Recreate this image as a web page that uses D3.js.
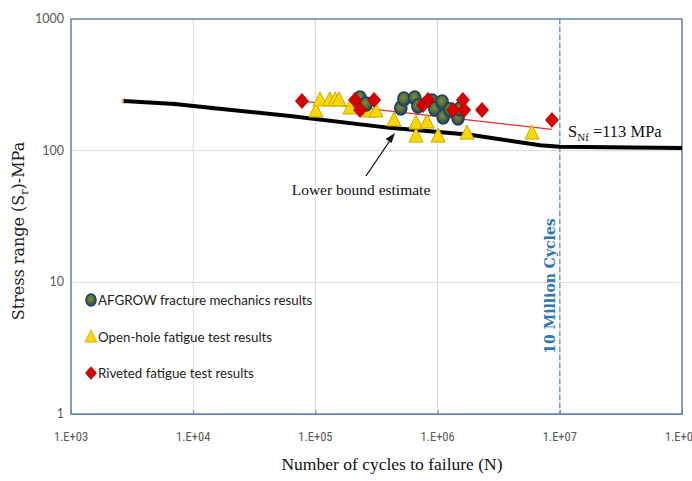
<!DOCTYPE html>
<html>
<head>
<meta charset="utf-8">
<script src="https://cdn.jsdelivr.net/npm/d3@7"></script>
<style>
  html, body { margin: 0; padding: 0; background: #fff; overflow: hidden; }
  svg { display: block; }
</style>
</head>
<body>
<div id="chart"></div>
<script>
// tick values / labels
const xTicks = [1e3, 1e4, 1e5, 1e6, 1e7, 1e8];
const xTickLabels = ["1.E+03", "1.E+04", "1.E+05", "1.E+06", "1.E+07", "1.E+08"];
const yTicks = [1, 10, 100, 1000];
const yTickLabels = ["1", "10", "100", "1000"];

// AFGROW fracture mechanics results [N, S]
const afgrowN = [2.32e5, 2.6e5, 5.0e5, 5.3e5, 6.5e5, 6.9e5, 9.0e5, 9.5e5, 1.09e6, 1.11e6, 1.26e6, 1.47e6, 1.52e6];
const afgrowS = [251, 226, 211, 247, 251, 218, 238, 207, 234, 180, 204, 177, 207];

// Open-hole fatigue test results
const openN = [1.01e5, 1.09e5, 1.31e5, 1.45e5, 1.56e5, 1.92e5, 2.75e5, 3.13e5, 4.4e5, 6.66e5, 6.66e5, 8.2e5, 1.01e6, 1.74e6, 5.92e6];
const openS = [200, 243, 243, 243, 243, 211, 200, 200, 171, 162, 129, 165, 129, 136, 136];

// Riveted fatigue test results
const rivetN = [7.76e4, 2.11e5, 2.32e5, 3.02e5, 7.6e5, 8.35e5, 1.34e6, 1.61e6, 1.65e6, 2.31e6, 8.63e6];
const rivetS = [238, 243, 204, 243, 222, 243, 204, 243, 204, 204, 171];

// lower bound estimate curve
const lowerN = [2.7e3, 7.1e3, 1.43e4, 6.2e4, 4.07e5, 1.84e6, 6.9e6, 1e7, 1e8];
const lowerS = [238, 226, 211, 183, 149, 132, 110, 107, 105];

// riveted trend line
const trendN = [7.76e4, 8.6e6];
const trendS = [238, 145];

const width = 692, height = 481;
const margin = {top: 19, right: 10, bottom: 67, left: 71};
const plotW = width - margin.left - margin.right;   // 611
const plotH = height - margin.top - margin.bottom;  // 395

const svg = d3.select("#chart").append("svg")
    .attr("width", width)
    .attr("height", height);

const defs = svg.append("defs");
const grad = defs.append("radialGradient").attr("id", "ballGrad")
    .attr("cx", "45%").attr("cy", "40%").attr("r", "60%");
grad.append("stop").attr("offset", "0%").attr("stop-color", "#7a8f3c");
grad.append("stop").attr("offset", "60%").attr("stop-color", "#4f6a34");
grad.append("stop").attr("offset", "100%").attr("stop-color", "#1d3a63");

const x = d3.scaleLog().domain([1e3, 1e8]).range([margin.left, margin.left + plotW]);
const y = d3.scaleLog().domain([1, 1000]).range([margin.top + plotH, margin.top]);

// grid
svg.append("g").selectAll("line.vg")
    .data(xTicks.slice(1, -1))
    .enter().append("line")
    .attr("x1", d => x(d)).attr("x2", d => x(d))
    .attr("y1", margin.top).attr("y2", margin.top + plotH)
    .attr("stroke", "#d9d9d9").attr("stroke-width", 1);
svg.append("g").selectAll("line.hg")
    .data(yTicks.slice(1, -1))
    .enter().append("line")
    .attr("x1", margin.left).attr("x2", margin.left + plotW)
    .attr("y1", d => y(d)).attr("y2", d => y(d))
    .attr("stroke", "#d9d9d9").attr("stroke-width", 1);

// frame
svg.append("rect")
    .attr("x", margin.left).attr("y", margin.top)
    .attr("width", plotW).attr("height", plotH)
    .attr("fill", "none").attr("stroke", "#4f6d9f").attr("stroke-width", 1.3);

// bottom axis with ticks going up
const xAxis = svg.append("g")
    .attr("transform", `translate(0,${margin.top + plotH})`)
    .call(d3.axisTop(x).tickValues(xTicks).tickSize(4).tickFormat(""));
xAxis.select(".domain").attr("stroke", "#5b84c4");
xAxis.selectAll(".tick line").attr("stroke", "#5b84c4");

svg.append("g").selectAll("text")
    .data(xTicks)
    .enter().append("text")
    .attr("x", d => x(d))
    .attr("y", margin.top + plotH + 27)
    .attr("text-anchor", "middle")
    .attr("font-family", "'Liberation Sans Narrow', 'Roboto Condensed', Lato, sans-serif")
    .attr("font-size", 12.5)
    .attr("fill", "#595959")
    .text((d, i) => xTickLabels[i]);

svg.append("g").selectAll("text")
    .data(yTicks)
    .enter().append("text")
    .attr("x", margin.left - 7)
    .attr("y", d => y(d) + 4)
    .attr("text-anchor", "end")
    .attr("font-family", "'Liberation Sans Narrow', Lato, sans-serif")
    .attr("font-size", 12.5)
    .attr("fill", "#595959")
    .text((d, i) => yTickLabels[i]);

// axis titles
svg.append("text")
    .attr("x", 392).attr("y", 470)
    .attr("text-anchor", "middle")
    .attr("font-family", "'Liberation Serif', serif")
    .attr("font-size", 17.5)
    .attr("fill", "#111")
    .text("Number of cycles to failure (N)");

const yTitle = svg.append("text")
    .attr("transform", "translate(24,231) rotate(-90)")
    .attr("text-anchor", "middle")
    .attr("font-family", "'DejaVu Serif', serif")
    .attr("font-size", 16)
    .attr("fill", "#222");
yTitle.append("tspan").text("Stress range (S");
yTitle.append("tspan").attr("dy", 4).attr("font-size", 11).text("r");
yTitle.append("tspan").attr("dy", -4).text(")-MPa");

// 10 million cycles dashed line
svg.append("line")
    .attr("x1", x(1e7)).attr("x2", x(1e7))
    .attr("y1", margin.top).attr("y2", margin.top + plotH)
    .attr("stroke", "#5b9bd5").attr("stroke-width", 1.3)
    .attr("stroke-dasharray", "5,3");
svg.append("text")
    .attr("transform", `translate(${x(1e7) - 5},286) rotate(-90)`)
    .attr("text-anchor", "middle")
    .attr("font-family", "'DejaVu Serif', serif")
    .attr("font-weight", "bold")
    .attr("font-size", 14)
    .attr("fill", "#2e75b6")
    .text("10 Million Cycles");

// lower bound curve
const lowerData = lowerN.map((n, i) => [n, lowerS[i]]);
const line = d3.line().x(d => x(d[0])).y(d => y(d[1]));
svg.append("g").selectAll("circle")
    .data(lowerData.slice(0, 3))
    .enter().append("circle")
    .attr("cx", d => x(d[0])).attr("cy", d => y(d[1]))
    .attr("r", 2.6).attr("fill", "#f2a65a").attr("opacity", 0.8);
svg.append("path")
    .datum(lowerData)
    .attr("d", line)
    .attr("fill", "none")
    .attr("stroke", "#000")
    .attr("stroke-width", 4);

// trend line
svg.append("path")
    .datum(trendN.map((n, i) => [n, trendS[i]]))
    .attr("d", line)
    .attr("fill", "none")
    .attr("stroke", "#e03030")
    .attr("stroke-width", 1.2);

// marker shapes
function triangle(g) {
    g.append("path").attr("d", "M0,-8 L7,6 L-7,6 Z")
        .attr("fill", "#ffd700").attr("stroke", "#c8a800").attr("stroke-width", 1);
}
function diamond(g) {
    g.append("path").attr("d", "M0,-7.5 L6.5,0 L0,7.5 L-6.5,0 Z")
        .attr("fill", "#d90000").attr("stroke", "#a80000").attr("stroke-width", 0.8);
}
function ball(g) {
    g.append("ellipse").attr("rx", 6).attr("ry", 7)
        .attr("fill", "url(#ballGrad)").attr("stroke", "#1f3f74").attr("stroke-width", 1.6);
}

function drawSeries(ns, ss, shape) {
    svg.append("g").selectAll("g")
        .data(ns.map((n, i) => [n, ss[i]]))
        .enter().append("g")
        .attr("transform", d => `translate(${x(d[0])},${y(d[1])})`)
        .each(function() { shape(d3.select(this)); });
}
drawSeries(openN, openS, triangle);
drawSeries(afgrowN, afgrowS, ball);
drawSeries(rivetN, rivetS, diamond);

// annotations
svg.append("line")
    .attr("x1", 366).attr("y1", 176).attr("x2", 391).attr("y2", 139)
    .attr("stroke", "#111").attr("stroke-width", 1.3);
svg.append("path")
    .attr("d", "M395,133 L385.5,139 L391.5,143 Z")
    .attr("fill", "#111");
svg.append("text")
    .attr("x", 361).attr("y", 195)
    .attr("text-anchor", "middle")
    .attr("font-family", "'Liberation Serif', serif")
    .attr("font-size", 15.5)
    .attr("fill", "#111")
    .text("Lower bound estimate");

const sLabel = svg.append("text")
    .attr("x", 568).attr("y", 137)
    .attr("font-family", "'Liberation Serif', serif")
    .attr("font-size", 16.5)
    .attr("fill", "#111");
sLabel.append("tspan").text("S");
sLabel.append("tspan").attr("dy", 4).attr("font-size", 11).text("Nf");
sLabel.append("tspan").attr("dy", -4).text(" =113 MPa");

// legend
const legend = [
    {label: "AFGROW fracture mechanics results", shape: ball, y: 300},
    {label: "Open-hole fatigue test results", shape: triangle, y: 337},
    {label: "Riveted fatigue test results", shape: diamond, y: 373}
];
legend.forEach(l => {
    const g = svg.append("g").attr("transform", `translate(91,${l.y}) scale(0.85)`);
    l.shape(g);
    svg.append("text")
        .attr("x", 98).attr("y", l.y + 5)
        .attr("font-family", "Lato, 'Open Sans', sans-serif")
        .attr("font-size", 13.3)
        .attr("fill", "#222")
        .text(l.label);
});
</script>
</body>
</html>
